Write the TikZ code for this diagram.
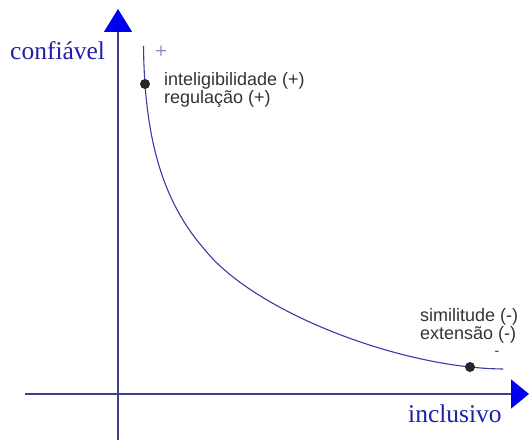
\documentclass[tikz,border=0pt]{standalone}
\usepackage{fontspec}
\setmainfont{Liberation Serif}
\setsansfont{Liberation Sans}
\usetikzlibrary{arrows.meta}
\definecolor{axisline}{HTML}{40408A}
\definecolor{axishead}{HTML}{0000EE}
\definecolor{curveline}{HTML}{3A3AA8}
\definecolor{axistext}{HTML}{2020A8}
\definecolor{notegray}{HTML}{333333}
\definecolor{signcol}{HTML}{7777B8}

\begin{document}
\begin{tikzpicture}[
  x=1pt, y=-1pt,
  axis/.style={draw=axisline, line width=1.6pt},
  axislabel/.style={font=\fontsize{25.5}{26}\selectfont, text=axistext,
    inner sep=0pt, anchor=base west},
  note/.style={font=\sffamily\fontsize{18}{16.5}\selectfont, text=notegray,
    align=left, inner sep=0pt, anchor=base west},
  dot/.style={circle, fill=black!85, inner sep=0pt, minimum size=10pt},
  curve/.style={draw=curveline, line width=1.1pt},
]
\useasboundingbox (0,0) rectangle (529,443);

% axes
\coordinate (ybot) at (118,440);
\coordinate (ytop) at (118,9);
\coordinate (xleft) at (25,394);
\coordinate (xright) at (529,394);
\draw[axis, -{Triangle[length=23pt,width=28pt,color=axishead]}] (ybot) -- (ytop);
\draw[axis, -{Triangle[length=18pt,width=29pt,color=axishead]}] (xleft) -- (xright);

\node[axislabel] (conf) at (10,60) {confiável};
\node[axislabel] (incl) at (408,422) {inclusivo};

% curve
\coordinate (cstart) at (143.5,46);
\coordinate (cmid) at (205,250);
\coordinate (cend) at (503,369);
\draw[curve] (cstart) .. controls (144.5,140) and (163,202) .. (cmid)
  .. controls (255,312) and (400,368) .. (cend);

\node[dot] (hi) at (145,84) {};
\node[dot] (lo) at (470,367) {};

\node[font=\fontsize{22}{22}\selectfont, text=signcol, inner sep=0pt] (plus) at (161,52) {+};
\node[font=\sffamily\fontsize{14}{14}\selectfont, text=notegray, inner sep=0pt] (minus) at (497,353) {-};

\node[note] (hinote) at (164,103.5) {inteligibilidade (+)\\regulação (+)};
\node[note] (lonote) at (420,339.5) {similitude (-)\\extensão (-)};
\end{tikzpicture}
\end{document}
